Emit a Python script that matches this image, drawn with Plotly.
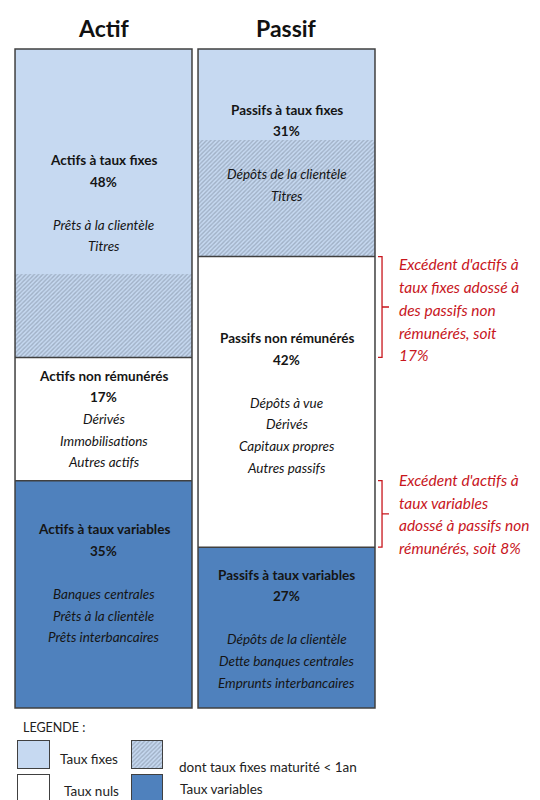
import plotly.graph_objects as go

# ---------------- data ----------------
columns = ["Actif", "Passif"]
# segment sizes, bottom -> top: variables, non rémunérés, fixes < 1an (hachuré), fixes
actif_sizes = [34.5, 18.7, 12.6, 34.2]
passif_sizes = [24.4, 44.1, 17.7, 13.8]

# labelled percentages (variables, non rémunérés, fixes)
actif_pct = [35, 17, 48]
passif_pct = [27, 42, 31]

actif_titles = ["Actifs à taux variables", "Actifs non rémunérés", "Actifs à taux fixes"]
passif_titles = ["Passifs à taux variables", "Passifs non rémunérés", "Passifs à taux fixes"]
actif_items = [["Banques centrales", "Prêts à la clientèle", "Prêts interbancaires"],
               ["Dérivés", "Immobilisations", "Autres actifs"],
               ["Prêts à la clientèle", "Titres"]]
passif_items = [["Dépôts de la clientèle", "Dette banques centrales", "Emprunts interbancaires"],
                ["Dépôts à vue", "Dérivés", "Capitaux propres", "Autres passifs"],
                ["Dépôts de la clientèle", "Titres"]]

legend_labels = ["Taux fixes", "dont taux fixes maturité < 1an", "Taux nuls", "Taux variables"]

# ---------------- style ----------------
FONT = "Lato"
LIGHT = "#c6d9f1"
DARK = "#4f81bd"
WHITE = "#ffffff"
EDGE = "#404040"
RED = "#c8161d"
W = 0.967
seg_colors = [DARK, WHITE, LIGHT, LIGHT]
seg_pattern = [None, None, "/", None]
HATCH = dict(shape="/", fgcolor="#7a8799", size=3, solidity=0.45, fillmode="overlay")

fig = go.Figure()

for ci, sizes in enumerate([actif_sizes, passif_sizes]):
    for si, v in enumerate(sizes):
        marker = dict(color=seg_colors[si], line=dict(width=0))
        if seg_pattern[si]:
            marker["pattern"] = HATCH
        fig.add_trace(go.Bar(x=[ci], y=[v], width=W, marker=marker,
                             showlegend=False, hoverinfo="skip"))

# outlines + separators
for ci, sizes in enumerate([actif_sizes, passif_sizes]):
    x0, x1 = ci - W / 2, ci + W / 2
    total = sum(sizes)
    fig.add_shape(type="rect", x0=x0, x1=x1, y0=0, y1=total, xref="x", yref="y",
                  line=dict(color=EDGE, width=1.5), layer="above")
    for cut in [sizes[0], sizes[0] + sizes[1]]:
        fig.add_shape(type="line", x0=x0, x1=x1, y0=cut, y1=cut, xref="x", yref="y",
                      line=dict(color=EDGE, width=1.5), layer="above")

SP = 21.6


def add_lines(x, yc, lines, spacing, xanchor="center", color="#111", size=13,
              shift=0.0, xref="x", yref="y"):
    n = len(lines)
    for k, t in enumerate(lines):
        if not t:
            continue
        fig.add_annotation(x=x, y=yc, xref=xref, yref=yref, text=t, showarrow=False,
                           xanchor=xanchor, yanchor="middle",
                           yshift=((n - 1) / 2 - k) * spacing + shift,
                           font=dict(family=FONT, size=size, color=color))


blank_after = [[True, False, True], [True, True, True]]
shifts = [[11, 0, 0], [-1, -1, 0]]
for ci, (sizes, pct, titles, items) in enumerate(
        [(actif_sizes, actif_pct, actif_titles, actif_items),
         (passif_sizes, passif_pct, passif_titles, passif_items)]):
    bounds = [(0, sizes[0]), (sizes[0], sizes[0] + sizes[1]),
              (sizes[0] + sizes[1], sum(sizes))]
    for gi in range(3):
        lines = [f"<b>{titles[gi]}</b>", f"<b>{pct[gi]}%</b>"]
        if blank_after[ci][gi]:
            lines.append("")
        lines += [f"<i>{t}</i>" for t in items[gi]]
        yc = (bounds[gi][0] + bounds[gi][1]) / 2
        add_lines(ci, yc, lines, SP, shift=shifts[ci][gi], size=13.5, color="#151515")

# column titles
for ci, name in enumerate(columns):
    fig.add_annotation(x=ci, y=1 - 20 / 792, xref="x", yref="paper", text=f"<b>{name}</b>",
                       showarrow=False, yanchor="middle",
                       font=dict(family=FONT, size=23, color="#111"))

# brackets and red comments
xv, xs, xt = 1.522, 1.50, 1.56
a_nr_top = actif_sizes[0] + actif_sizes[1]
p_nr_top = passif_sizes[0] + passif_sizes[1]
brackets = [(p_nr_top, a_nr_top), (actif_sizes[0], passif_sizes[0])]
excess = [actif_pct[2] - passif_pct[2], actif_pct[0] - passif_pct[0]]
texts = [["Excédent d'actifs à", "taux fixes adossé à", "des passifs non", "rémunérés, soit",
          f"{excess[0]}%"],
         ["Excédent d'actifs à", "taux variables", "adossé à passifs non",
          f"rémunérés, soit {excess[1]}%"]]
text_shift = [-3, 0]
for bi, (ya, yb) in enumerate(brackets):
    ym = (ya + yb) / 2
    path = (f"M {xs},{ya} L {xv},{ya} L {xv},{yb} L {xs},{yb} "
            f"M {xv},{ym} L {xt},{ym}")
    fig.add_shape(type="path", path=path, xref="x", yref="y",
                  line=dict(color=RED, width=1.3))
    add_lines(1.604, ym, [f"<i>{t}</i>" for t in texts[bi]], 22.75, xanchor="left",
              color=RED, size=15.5, shift=text_shift[bi])

# ---------------- legend (pixel axis, reference page pixels) ----------------
leg_boxes = [(34, 28, 741, LIGHT, None), (147.5, 28, 741, LIGHT, "/"),
             (34, 28, 775, WHITE, None), (147.5, 28, 775, DARK, None)]
leg_w = [32, 31, 32, 31]
for (xc, h, base, col, pat), wdt in zip(leg_boxes, leg_w):
    marker = dict(color=col, line=dict(color=EDGE, width=1.5))
    if pat:
        marker["pattern"] = HATCH
    fig.add_trace(go.Bar(x=[xc], y=[h], base=[base], width=wdt, marker=marker,
                         xaxis="x2", yaxis="y2", showlegend=False, hoverinfo="skip"))

fig.add_annotation(x=21, y=727, xref="x2", yref="y2", text="LEGENDE :", showarrow=False,
                   xanchor="left", yanchor="middle", font=dict(family=FONT, size=12.5, color="#222"))
leg_text_pos = [(58, 759), (177, 767), (62, 791), (178, 789)]
for (tx, ty), lab in zip(leg_text_pos, legend_labels):
    fig.add_annotation(x=tx, y=ty, xref="x2", yref="y2", text=lab, showarrow=False,
                       xanchor="left", yanchor="middle",
                       font=dict(family=FONT, size=13.5, color="#222"))

# page body has an 8px margin: figure is 532x792 placed at (8, 8)
fig.update_layout(
    width=532, height=792, margin=dict(l=0, r=0, t=0, b=0),
    paper_bgcolor="white", plot_bgcolor="rgba(0,0,0,0)", barmode="stack", bargap=0,
    xaxis=dict(range=[-0.5219, 2.3852], visible=False, domain=[0, 1]),
    yaxis=dict(range=[-13.96, 106.22], visible=False, domain=[0, 1]),
    xaxis2=dict(range=[8, 540], visible=False, domain=[0, 1], anchor="y2"),
    yaxis2=dict(range=[800, 8], visible=False, domain=[0, 1], anchor="x2"),
)

fig.write_html("out.html")
